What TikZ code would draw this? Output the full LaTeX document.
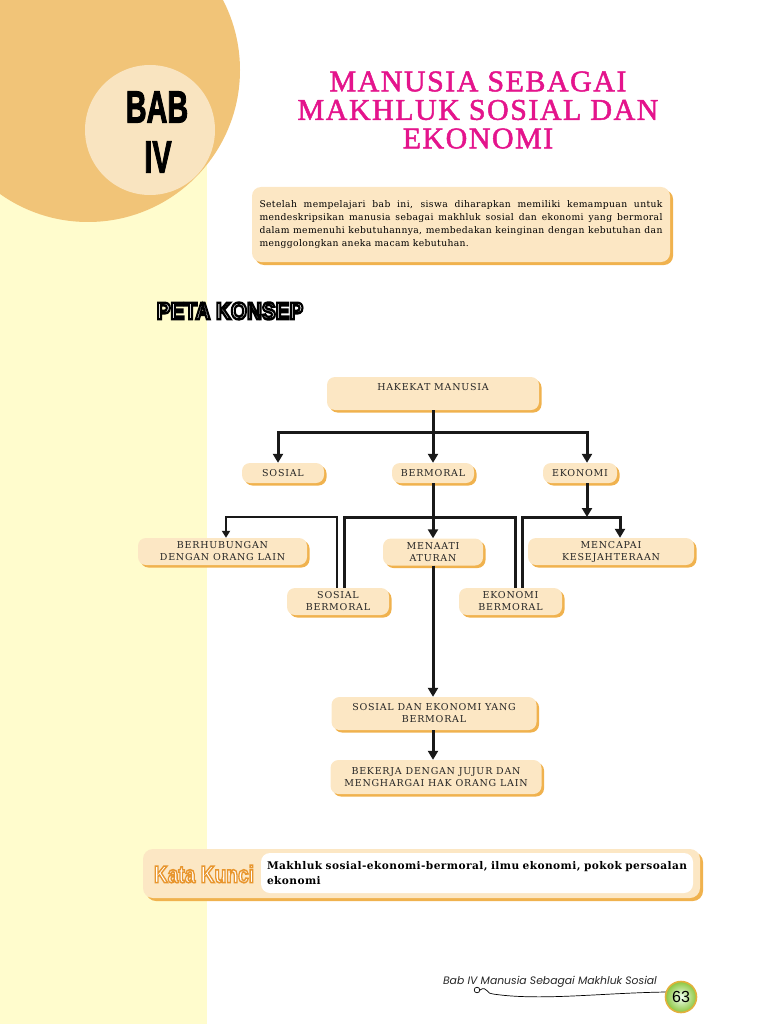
\documentclass[tikz,border=0pt]{standalone}
\usepackage{fontspec}
\usetikzlibrary{arrows.meta, shadows}

\newfontfamily\konsepfont[LetterSpace=8]{DejaVu Serif}
\newfontfamily\teksfont[LetterSpace=4]{DejaVu Serif}
\newfontfamily\judulfont[LetterSpace=5]{Liberation Serif}
\newfontfamily\tebalfont{Liberation Sans}
\newfontfamily\kakifont{Poppins}

\definecolor{pitakuning}{RGB}{255,252,205}
\definecolor{lingkaranoranye}{RGB}{241,196,120}
\definecolor{lingkaranmuda}{RGB}{249,228,192}
\definecolor{judulmagenta}{RGB}{228,20,140}
\definecolor{kotakpeach}{RGB}{252,231,196}
\definecolor{bayangoranye}{RGB}{240,178,78}
\definecolor{kuncioranye}{RGB}{232,150,46}
\definecolor{halamanhijau}{RGB}{140,198,63}
\definecolor{halamantepi}{RGB}{226,176,60}

% text with a stroked outline: {stroke rgb}{width}{text}
\newcommand{\teksgaris}[3]{\special{pdf:literal direct 2 Tr #2 w #1 RG}#3\special{pdf:literal direct 0 Tr}}

\tolerance=10000
\hyphenpenalty=10000

\begin{document}
\begin{tikzpicture}[
  x=1pt, y=-1pt,
  konsep/.style={
    rectangle, rounded corners=8pt, fill=kotakpeach,
    drop shadow={shadow xshift=2.5pt, shadow yshift=-2.5pt, fill=bayangoranye, opacity=1},
    align=center, inner sep=0pt, text=black!85,
    font=\konsepfont\fontsize{9.5}{12}\selectfont
  },
  intro/.style={
    rectangle, rounded corners=9pt, fill=kotakpeach,
    drop shadow={shadow xshift=3pt, shadow yshift=-3pt, fill=bayangoranye, opacity=1},
    minimum width=418pt, minimum height=75pt,
    text width=403pt, align=justify, text=black,
    font=\teksfont\fontsize{9.2}{12.8}\selectfont
  },
  kunci/.style={
    rectangle, rounded corners=10pt, fill=kotakpeach,
    drop shadow={shadow xshift=3pt, shadow yshift=-3pt, fill=bayangoranye, opacity=1},
    minimum width=557pt, minimum height=49pt
  },
  kuncitext/.style={
    rectangle, rounded corners=9pt, fill=white,
    minimum width=432pt, minimum height=40pt,
    text width=420pt, align=justify, text=black,
    font=\teksfont\bfseries\fontsize{10.6}{15}\selectfont
  },
  arr/.style={
    -{Triangle[length=9pt, width=10pt]}, line width=3pt, black!90
  },
  link/.style={
    line width=3pt, black!90
  },
  thinarr/.style={
    -{Triangle[length=7pt, width=8pt]}, line width=1.8pt, black!90
  }
]
\useasboundingbox (0,0) rectangle (768,1024);

% Page background
\fill[pitakuning] (0,0) rectangle (207,1024);
\fill[lingkaranoranye] (88,70) circle[radius=152pt];
\fill[lingkaranmuda] (150,130) circle[radius=65pt];

\node[font=\tebalfont\bfseries\fontsize{45}{45}\selectfont, text=black, inner sep=0pt] (bab) at (157,107)
{\scalebox{0.64}[1]{\teksgaris{0 0 0}{1.2}{BAB}}};
\node[font=\tebalfont\bfseries\fontsize{45}{45}\selectfont, text=black, inner sep=0pt] (babnum) at (158,157)
{\scalebox{0.64}[1]{\teksgaris{0 0 0}{1.2}{IV}}};

\node[font=\judulfont\fontsize{30}{28.5}\selectfont, text=judulmagenta, align=center] (judul) at (478,110)
{\teksgaris{0.894 0.078 0.549}{0.5}{MANUSIA SEBAGAI}\\
 \teksgaris{0.894 0.078 0.549}{0.5}{MAKHLUK SOSIAL DAN}\\
 \teksgaris{0.894 0.078 0.549}{0.5}{EKONOMI}};

\node[intro] (tujuan) at (461,224.5)
{Setelah mempelajari bab ini, siswa diharapkan memiliki kemampuan untuk\linebreak
mendeskripsikan manusia sebagai makhluk sosial dan ekonomi yang bermoral\linebreak
dalam memenuhi kebutuhannya, membedakan keinginan dengan kebutuhan dan\linebreak
menggolongkan aneka macam kebutuhan.};

\node[font=\tebalfont\bfseries\fontsize{24}{24}\selectfont, text=white, inner sep=0pt] (peta) at (230,311)
{\scalebox{0.86}[1]{\teksgaris{0 0 0}{2.4}{PETA KONSEP}}};

% Concept map
\node[konsep, minimum width=212pt, minimum height=33pt, text depth=13pt] (hakekat) at (433,393.5)
{HAKEKAT MANUSIA};

\node[konsep, minimum width=82pt, minimum height=20pt] (sosial) at (283,473)
{SOSIAL};

\node[konsep, minimum width=82pt, minimum height=20pt] (bermoral) at (433,473)
{BERMORAL};

\node[konsep, minimum width=74pt, minimum height=20pt] (ekonomi) at (580,473)
{EKONOMI};

\node[konsep, minimum width=169pt, minimum height=27pt] (berhubungan) at (222.5,551.5)
{BERHUBUNGAN\\DENGAN ORANG LAIN};

\node[konsep, minimum width=100pt, minimum height=27pt] (menaati) at (433,552)
{MENAATI\\ATURAN};

\node[konsep, minimum width=166pt, minimum height=27pt] (mencapai) at (611,551.5)
{MENCAPAI\\KESEJAHTERAAN};

\node[konsep, minimum width=102pt, minimum height=27pt] (sosbm) at (338,601.5)
{SOSIAL\\BERMORAL};

\node[konsep, minimum width=103pt, minimum height=27pt] (ekobm) at (510.5,601.5)
{EKONOMI\\BERMORAL};

\node[konsep, minimum width=205pt, minimum height=33pt] (soseko) at (434,713.5)
{SOSIAL DAN EKONOMI YANG\\BERMORAL};

\node[konsep, minimum width=211pt, minimum height=34pt] (bekerja) at (436,777)
{BEKERJA DENGAN JUJUR DAN\\MENGHARGAI HAK ORANG LAIN};

\coordinate (jmid) at (433,517);
\coordinate (jright) at (587,517);

% First level
\draw[arr] (hakekat.south) -- ++(0,22) -| ([xshift=-5pt]sosial.north);
\draw[arr] (hakekat.south) -- (bermoral.north);
\draw[arr] (hakekat.south) -- ++(0,22) -| ([xshift=7pt]ekonomi.north);

% Second level
\draw[arr] (bermoral.south) -- (menaati.north);
\draw[link] ([xshift=6pt]sosbm.north) |- (jmid) -| ([xshift=4.5pt]ekobm.north);
\draw[thinarr] ([xshift=-1pt]sosbm.north) -- ++(0,-71) -| ([xshift=3.5pt]berhubungan.north);
\draw[arr] ([xshift=7pt]ekonomi.south) -- (jright);
\draw[arr] ([xshift=11.5pt]ekobm.north) |- (jright) -| ([xshift=9pt]mencapai.north);

% Bottom spine
\draw[arr] (menaati.south) -- (menaati.south |- soseko.north);
\draw[arr] (soseko.south -| menaati.south) -- (menaati.south |- bekerja.north);

% Key words
\node[kunci] (kotakkunci) at (421.5,873.5) {};
\node[font=\tebalfont\bfseries\fontsize{24}{24}\selectfont, text=white, inner sep=0pt] (katakunci) at (204,874)
{\scalebox{0.8}[1]{\teksgaris{0.91 0.588 0.18}{1.6}{Kata Kunci}}};
\node[kuncitext] (isikunci) at (477,873)
{Makhluk sosial-ekonomi-bermoral, ilmu ekonomi, pokok persoalan\linebreak ekonomi};

% Footer
\node[font=\kakifont\itshape\fontsize{10.8}{12}\selectfont, text=black!85] (kaki) at (550,982)
{Bab IV Manusia Sebagai Makhluk Sosial};
\draw[line width=0.7pt] (477,990) circle[radius=2.8pt];
\draw[line width=0.7pt] (480,990) .. controls (487,985) and (487,995) .. (493,994)
  .. controls (540,1001) and (600,993) .. (666,992);
\node[circle, draw=halamantepi, line width=1.6pt, inner color=green!6, outer color=halamanhijau,
  minimum size=31pt, inner sep=0pt, font=\tebalfont\fontsize{16}{16}\selectfont] (halaman) at (681,997)
{63};

\end{tikzpicture}
\end{document}
